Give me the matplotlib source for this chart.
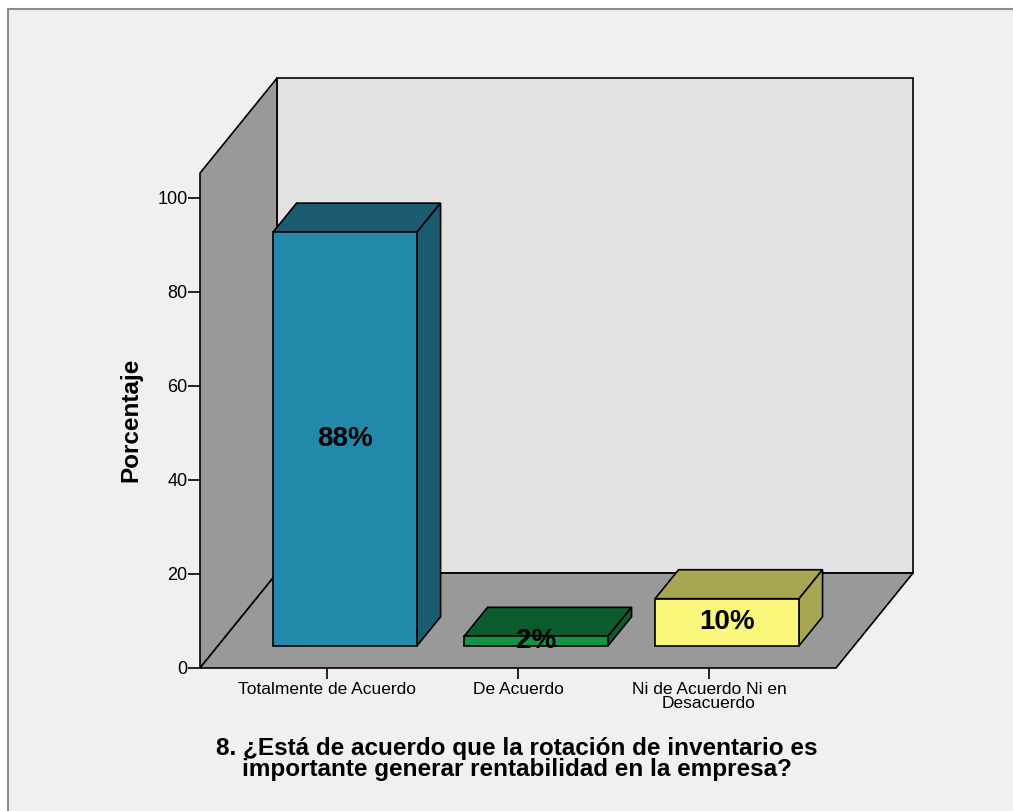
import matplotlib
matplotlib.use("Agg")
import matplotlib.pyplot as plt
from matplotlib.patches import Polygon, Rectangle

plt.rcParams['font.family'] = ['Liberation Sans', 'DejaVu Sans']

# data
categories = ["Totalmente de Acuerdo", "De Acuerdo", "Ni de Acuerdo Ni en\nDesacuerdo"]
percentages = [88, 2, 10]
bar_labels = ["88%", "2%", "10%"]
yticks = [0, 20, 40, 60, 80, 100]
ylabel = "Porcentaje"
title = "8. ¿Está de acuerdo que la rotación de inventario es\nimportante generar rentabilidad en la empresa?"

front_colors = ["#2389ab", "#119447", "#faf77a"]
dark_colors = ["#1b5c71", "#0b5c2e", "#a9a653"]

# pseudo 3d geometry (data units)
x_lo, x_hi = -0.665, 2.665
wall_h = 105.3
depth_dx = 0.403
depth_dy = 20.2
bar_w = 0.754
bar_front, bar_back = 0.235, 0.54
edge = "black"
lw = 1.2


def proj(x, y, d):
    return (x + d * depth_dx, y + d * depth_dy)


fig = plt.figure(figsize=(10.13, 8.11), dpi=100, facecolor="white")
fig.patches.append(Rectangle((8 / 1013, -0.1), 1.2, 1.1 - 9 / 811,
                             transform=fig.transFigure, facecolor="#f0f0f0",
                             edgecolor="#8c8c8c", linewidth=1.5, zorder=-5))

ax = fig.add_axes([200 / 1013, (811 - 668) / 811, 636 / 1013, 470 / 811])
ax.set_facecolor("none")
ax.set_xlim(x_lo, x_hi)
ax.set_ylim(0, 100)
for s in ax.spines.values():
    s.set_visible(False)


def poly(pts, fc, z):
    p = Polygon(pts, closed=True, facecolor=fc, edgecolor=edge, linewidth=lw,
                joinstyle="miter", clip_on=False, zorder=z)
    ax.add_patch(p)


# back wall, left wall, floor
poly([proj(x_lo, 0, 1), proj(x_hi, 0, 1), proj(x_hi, wall_h, 1), proj(x_lo, wall_h, 1)], "#e2e2e2", 1)
poly([proj(x_lo, 0, 0), proj(x_lo, wall_h, 0), proj(x_lo, wall_h, 1), proj(x_lo, 0, 1)], "#999999", 2)
poly([proj(x_lo, 0, 0), proj(x_hi, 0, 0), proj(x_hi, 0, 1), proj(x_lo, 0, 1)], "#999999", 2)

# bars
for i, v in enumerate(percentages):
    l, r = i - bar_w / 2, i + bar_w / 2
    poly([proj(l, v, bar_front), proj(r, v, bar_front), proj(r, v, bar_back), proj(l, v, bar_back)], dark_colors[i], 3)
    poly([proj(r, 0, bar_front), proj(r, v, bar_front), proj(r, v, bar_back), proj(r, 0, bar_back)], dark_colors[i], 3)
    poly([proj(l, 0, bar_front), proj(r, 0, bar_front), proj(r, v, bar_front), proj(l, v, bar_front)], front_colors[i], 4)
    tx, ty = proj(i, v / 2, bar_front)
    ax.text(tx, ty, bar_labels[i], ha="center", va="center", fontsize=20,
            fontweight="bold", color="black", zorder=6, clip_on=False)

ax.set_yticks(yticks)
ax.set_xticks(range(len(categories)))
ax.set_xticklabels(categories, fontsize=12.5, linespacing=0.95)
ax.tick_params(axis="y", length=8.5, width=1.2, pad=0.5, labelsize=13)
ax.tick_params(axis="x", length=8, width=1.2, pad=2)
ax.set_ylabel(ylabel, fontsize=17.5, fontweight="bold")
ax.yaxis.set_label_coords(-0.091, 0.527)

fig.text(517 / 1013, (811 - 759) / 811, title, ha="center", va="center",
         fontsize=17.5, fontweight="bold", linespacing=0.85)

fig.savefig("out.png", dpi=100, facecolor=fig.get_facecolor())
